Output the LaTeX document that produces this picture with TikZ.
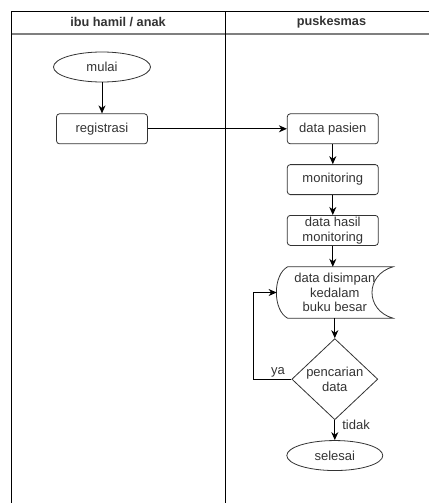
\documentclass[tikz,border=0pt]{standalone}
\usepackage{fontspec}
\setmainfont{Liberation Sans}
\usetikzlibrary{arrows.meta, positioning, shapes.geometric, calc}
\definecolor{inkdark}{HTML}{333333}
\definecolor{inkmid}{HTML}{7F7F7F}

\begin{document}
\begin{tikzpicture}[
  x=1pt, y=1pt,
  font=\fontsize{13}{14.5}\selectfont, text=inkdark,
  lane/.style   = {draw=black, line width=1pt},
  proc/.style   = {draw=inkdark, rounded corners=3pt, line width=0.8pt,
                   minimum width=91pt, minimum height=30pt, align=center,
                   inner sep=1pt},
  term/.style   = {draw=inkdark, ellipse, line width=0.8pt,
                   minimum width=97pt, minimum height=30pt, inner sep=1pt},
  decide/.style = {draw=inkdark, diamond, line width=0.8pt, aspect=1,
                   minimum width=86pt, minimum height=81pt, inner sep=0pt,
                   align=center},
  store/.style  = {minimum width=116pt, minimum height=51pt, align=center,
                   inner sep=0pt},
  flow/.style   = {-{Stealth[length=8pt, width=7pt, inset=2.5pt]},
                   draw=black, line width=1pt},
  lbl/.style    = {text=inkdark, inner sep=1pt},
  node distance=20pt,
]
\useasboundingbox (0,0) rectangle (429,-503);

% ---- the lanes
\draw[lane] (11.5,-503) -- (11.5,-11.5) -- (429,-11.5);
\draw[inkmid, line width=1.6pt] (11.5,-34) -- (429,-34);
\draw[lane] (225,-11.5) -- (225,-503);
\node[font=\fontsize{12.7}{14}\selectfont\bfseries] (laneibu) at (118,-22.5) {ibu hamil / anak};
\node[font=\fontsize{12.7}{14}\selectfont\bfseries] (lanepkm) at (331.5,-22.5) {puskesmas};

% ---- ibu hamil / anak
\node[term] (mulai) at (102,-67) {mulai};
\node[proc, below=31pt of mulai] (regis) {registrasi};

% ---- puskesmas
\node[proc, right=139pt of regis] (pasien) {data pasien};
\node[proc, below=of pasien] (monit) {monitoring};
\node[proc, below=of monit] (hasil) {data hasil\\monitoring};
\node[store, below=21pt of hasil, xshift=2pt] (simpan)
     {data disimpan\\kedalam\\buku besar};
\draw[inkdark, line width=0.8pt]
  ($(simpan.north west)+(11,0)$) -- (simpan.north east)
  .. controls ($(simpan.north east)+(-28,-8)$) and ($(simpan.south east)+(-28,8)$) .. (simpan.south east)
  -- ($(simpan.south west)+(11,0)$)
  .. controls ($(simpan.south west)+(-4,8)$) and ($(simpan.north west)+(-4,-8)$) .. cycle;
\node[decide, below=of simpan] (cari) {pencarian\\data};
\node[term, below=of cari, minimum width=96pt] (selesai) {selesai};

\draw[flow] (mulai) -- (regis);
\draw[flow] (regis) -- (pasien);
\draw[flow] (pasien) -- (monit);
\draw[flow] (monit) -- (hasil);
\draw[flow] (hasil.south) -- (hasil.south |- simpan.north);
\draw[flow] (simpan) -- (cari);
\draw[flow] (cari) -- node[lbl, right=6pt, pos=0.25] {tidak} (selesai);
\draw[flow] (cari.west) -- node[lbl, above, pos=0.35] {ya} ++(-38,0)
  |- (simpan.west);

\end{tikzpicture}
\end{document}
